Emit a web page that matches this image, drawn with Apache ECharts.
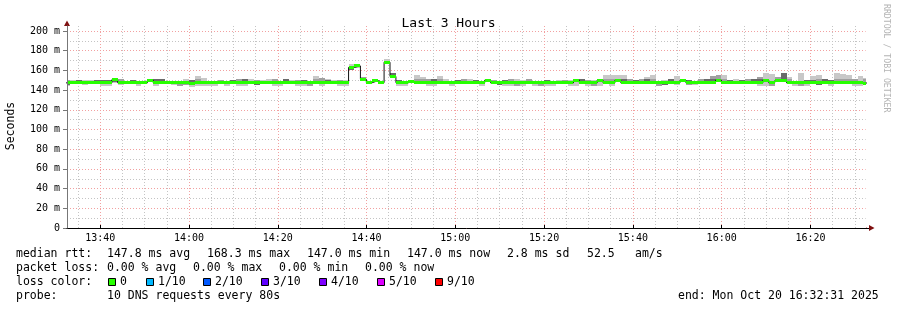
<!DOCTYPE html>
<html><head><meta charset="utf-8">
<script src="https://cdn.jsdelivr.net/npm/echarts@6/dist/echarts.min.js"></script>
<style>html,body{margin:0;padding:0;background:#fff}#c{width:897px;height:310px}</style>
</head><body><div id="c"></div>
<script>
const _ = null;
// time frame (UTC used as wall clock)
const stepSeconds = 80;
const firstStepStart = Date.UTC(2025, 9, 20, 13, 31, 57);
const viewStart = Date.UTC(2025, 9, 20, 13, 32, 31);
const viewEnd = Date.UTC(2025, 9, 20, 16, 32, 31);

// median rtt per 80 s step (ms)
const medianRtt = [
147.3,147.3,147.3,147.3,147.3,147.3,147.3,147.3,150.5,147.3,
147.3,147.3,147.3,147.3,150.0,147.3,147.3,147.3,147.3,147.3,
147.3,147.1,147.3,147.4,147.3,147.2,147.3,147.3,147.4,147.3,
147.3,147.3,147.2,147.3,147.3,147.3,147.4,147.3,147.3,147.3,
147.3,147.3,147.3,147.3,147.3,147.2,147.3,147.3,163.0,164.5,
151.0,147.5,149.5,147.5,168.3,153.8,147.5,147.3,148.5,147.3,
147.3,147.3,147.3,147.3,147.2,147.3,147.3,147.3,147.3,147.3,
147.3,150.0,147.3,147.3,147.3,147.3,147.3,147.3,147.3,147.3,
147.3,147.3,147.3,147.3,147.3,147.3,150.0,147.3,147.3,147.3,
150.0,147.3,147.3,150.0,147.3,147.3,147.3,147.3,147.3,147.3,
147.3,147.3,147.3,147.3,150.0,147.3,147.3,147.3,147.3,147.3,
150.0,147.3,147.3,147.3,147.3,147.3,147.3,147.3,150.0,147.3,
149.5,150.0,147.3,147.3,147.3,147.3,147.3,147.3,147.3,147.3,
147.3,147.3,147.3,147.3,147.3,147.0
];
// highest ping per step (null = no smoke above median)
const smokeMax = [
150.5,150.5,150.5,150.5,150.5,150.5,150.5,150.5,151.5,151,
_,150.5,_,_,_,151,151,_,_,_,
151,150.5,154.5,152.5,_,_,150.5,_,150.5,151,
151,151,150.5,150.5,151,151,_,151,150,150.5,
150.5,_,154,152,151,150.5,150.5,150.5,166.5,_,
153.5,149.5,_,148.8,172,157.5,150,_,150,155,
153,151.5,151,154,151,_,150.5,151,151,150.5,
_,_,150.5,_,150.5,151,151,150.5,151,_,
_,150.5,_,150.5,150.5,150.5,_,151,150.5,150.5,
_,155,155,155,155,151,150.5,151,153.5,155.5,
_,150.5,151,154.5,_,150.5,_,151,151,154.5,
155,155,150.5,151,150.5,151,151,153.5,157.5,156.5,
153.5,157,153.5,_,157,150.5,154,155,151,150.5,
157,156.5,155.5,151,154,152
];
const smokeMidHigh = [
150.5,_,_,_,_,_,_,_,_,151,
_,_,_,_,_,_,_,_,_,_,
_,_,151,_,_,_,150.5,_,_,151,
_,_,150.5,_,_,151,_,_,_,150.5,
_,_,151,152,_,_,150.5,_,_,_,
153.5,_,_,_,_,_,_,_,_,151,
151,151.5,_,151,_,_,_,151,_,_,
_,_,150.5,_,_,151,_,_,151,_,
_,_,_,_,150.5,_,_,_,150.5,_,
_,151,151,_,_,151,_,151,_,151,
_,_,_,_,_,_,_,151,_,154.5,
155,151,_,_,_,151,_,153.5,_,_,
153.5,_,151,_,_,_,_,151,_,_,
151,151,151,151,_,151
];
const smokeDarkHigh = [
_,_,150.5,_,_,150.5,150.5,150.5,_,_,
_,150.5,_,_,_,151,151,_,_,_,
_,150.5,_,_,_,_,_,_,150.5,_,
151,_,_,_,_,_,_,151,_,_,
150.5,_,_,_,150.5,_,_,_,_,_,
_,149.5,_,148.8,_,157.5,150,_,150,_,
_,_,151,_,_,_,150.5,_,_,150.5,
_,_,_,_,150.5,_,_,_,_,_,
_,150.5,_,_,_,_,_,151,_,_,
_,_,_,_,151,_,150.5,_,151,_,
_,_,151,_,_,150.5,_,_,151,151,
_,_,150.5,_,150.5,_,151,151,_,_,
_,157,_,_,_,150.5,150.5,_,151,150.5,
_,_,_,_,_,_
];
// lowest ping per step (null = no smoke below median)
const smokeMin = [
144,146,_,145,_,_,144,144,147,145,
_,_,144.5,_,148,144,_,_,145,144,
145,143.5,144.5,144.5,144,144,_,144.5,_,144.5,
144.5,_,145,_,146.5,144.5,144.5,_,_,144.5,
144.5,144,_,144.5,_,_,144.5,144.5,160,162,
_,_,_,_,_,_,144.5,144,_,_,
_,144.5,144.5,_,_,144.5,_,_,_,_,
144.5,148,146.5,145.5,144,144,144.5,144.5,_,144.5,
144,144.5,144,_,_,144.5,144.5,_,144.5,144.5,
144.5,_,144.5,148,_,_,_,_,_,_,
144,145.5,_,145,148,145,145,_,_,_,
_,_,_,_,_,_,_,144.5,144.5,144.5,
_,148,_,144.5,144.5,144.5,_,145.5,_,144.5,
146,_,_,144.5,144,_
];
const smokeMidLow = [
_,_,_,_,_,_,_,_,_,_,
_,_,_,_,_,_,_,_,_,144,
145,_,_,_,_,_,_,_,_,_,
_,_,_,_,_,_,_,_,_,_,
_,144,_,_,_,_,_,_,_,_,
_,_,_,_,_,_,_,_,_,_,
_,_,_,_,_,_,_,_,_,_,
_,_,_,_,_,_,144.5,_,_,_,
144,_,_,_,_,_,_,_,_,144.5,
_,_,_,_,_,_,_,_,_,_,
144,_,_,_,_,145,_,_,_,_,
_,_,_,_,_,_,_,_,_,144.5,
_,_,_,_,144.5,_,_,_,_,_,
_,_,_,_,_,_
];
const smokeDarkLow = [
145,_,_,_,_,_,_,_,148,_,
_,_,_,_,148,_,_,_,_,_,
_,_,_,_,_,_,_,_,_,_,
_,_,145,_,146.5,_,_,_,_,_,
_,_,_,_,_,_,_,_,160,_,
_,_,_,_,_,_,_,_,_,_,
_,_,_,_,_,_,_,_,_,_,
_,148,146.5,145.5,_,_,_,_,_,_,
_,_,_,_,_,_,148,_,_,_,
148,_,_,148,_,_,_,_,_,_,
_,145.5,_,_,148,_,_,_,_,_,
_,_,_,_,_,_,_,_,148,_,
_,148,_,_,_,_,_,145.5,_,_,
146,_,_,_,_,_
];

const yTickLabels = {0:'0',20:'20 m',40:'40 m',60:'60 m',80:'80 m',100:'100 m',120:'120 m',140:'140 m',160:'160 m',180:'180 m',200:'200 m'};
const titleText = 'Last 3 Hours';
const yTitle = 'Seconds';
const lossLegend = [['0','#26ff00'],['1/10','#00b8ff'],['2/10','#0059ff'],['3/10','#5e00ff'],['4/10','#7e00ff'],['5/10','#dd00ff'],['9/10','#ff0000']];
const statsRtt = ['median rtt:','147.8 ms avg','168.3 ms max','147.0 ms min','147.0 ms now','2.8 ms sd','52.5','am/s'];
const statsLoss = ['packet loss:','0.00 % avg','0.00 % max','0.00 % min','0.00 % now'];
const probeText = ['probe:','10 DNS requests every 80s'];
const endText = 'end: Mon Oct 20 16:32:31 2025';
const watermark = 'RRDTOOL / TOBI OETIKER';

const STEP_MS = stepSeconds * 1000;
const smokeData = medianRtt.map((m, j) => {
  const t0 = firstStepStart + j * STEP_MS;
  const dh = smokeDarkHigh[j] ?? m, dl = smokeDarkLow[j] ?? m;
  const mh = Math.max(smokeMidHigh[j] ?? m, dh), ml = Math.min(smokeMidLow[j] ?? m, dl);
  const lh = Math.max(smokeMax[j] ?? m, mh), ll = Math.min(smokeMin[j] ?? m, ml);
  return [t0, t0 + STEP_MS, m, ll, lh, ml, mh, dl, dh];
});
const lineData = medianRtt.map((m, j) => [firstStepStart + j * STEP_MS, m]);
lineData.push([firstStepStart + medianRtt.length * STEP_MS, medianRtt[medianRtt.length - 1]]);

const MONO = '"DejaVu Sans Mono", "Liberation Mono", monospace';
const SMOKE = ['#c8c8c8', '#a0a0a0', '#6a6a6a'];

function clipRect(r, cs) {
  const x1 = Math.max(r.x, cs.x), x2 = Math.min(r.x + r.width, cs.x + cs.width);
  const y1 = Math.max(r.y, cs.y), y2 = Math.min(r.y + r.height, cs.y + cs.height);
  if (x2 <= x1 || y2 <= y1) return null;
  return {x: x1, y: y1, width: x2 - x1, height: y2 - y1};
}
function renderSmoke(params, api) {
  const cs = params.coordSys;
  const t0 = api.value(0), t1 = api.value(1);
  const bands = [[api.value(3), api.value(4)], [api.value(5), api.value(6)], [api.value(7), api.value(8)]];
  const children = [];
  bands.forEach((b, i) => {
    if (!(b[1] > b[0])) return;
    const a = api.coord([t0, b[1]]), c = api.coord([t1, b[0]]);
    const xa = Math.round(a[0]), xc = Math.round(c[0]);
    const ya = Math.round(a[1]), yc = Math.round(c[1]);
    if (yc <= ya) return;
    const r = clipRect({x: xa, y: ya, width: xc - xa, height: yc - ya}, cs);
    if (r) children.push({type: 'rect', shape: r, style: {fill: SMOKE[i]}, z2: i});
  });
  return {type: 'group', children};
}
function renderMedian(params, api) {
  const cs = params.coordSys;
  const a = api.coord([api.value(0), api.value(2)]), b = api.coord([api.value(1), api.value(2)]);
  const x1 = Math.max(Math.round(a[0]), cs.x), x2 = Math.min(Math.round(b[0]), cs.x + cs.width);
  if (x2 <= x1) return null;
  return {type: 'rect', shape: {x: x1, y: Math.round(a[1] - 1.5), width: x2 - x1, height: 3}, style: {fill: '#26ff00'}, z2: 100};
}

const graphics = [];
function text(x, y, s, size, extra) {
  graphics.push(Object.assign({type: 'text', x: x, y: y, silent: true,
    style: {text: s, font: size + 'px ' + MONO, fill: '#000', align: 'left', verticalAlign: 'middle'}}, extra || {}));
}
// stats lines
const rttX = [16, 107, 207, 307, 407, 507, 587, 635];
statsRtt.forEach((s, i) => text(rttX[i], 254, s, 11.5));
const lossX = [16, 107, 193, 279, 365];
statsLoss.forEach((s, i) => text(lossX[i], 268, s, 11.5));
text(16, 282, 'loss color:', 11.5);
const boxX = [108, 146, 203, 261, 319, 377, 435];
lossLegend.forEach((l, i) => {
  graphics.push({type: 'rect', shape: {x: boxX[i] + 0.5, y: 278.5, width: 7, height: 7},
    style: {fill: l[1], stroke: '#000', lineWidth: 1}, silent: true});
  text(boxX[i] + 12, 282, l[0], 11.5);
});
text(16, 296, probeText[0], 11.5);
text(107, 296, probeText[1], 11.5);
text(678, 296, endText, 11.5);
// y title
graphics.push({type: 'text', x: 11, y: 126, rotation: Math.PI / 2, silent: true,
  style: {text: yTitle, font: '11.5px ' + MONO, fill: '#000', align: 'center', verticalAlign: 'middle'}});
// watermark
graphics.push({type: 'text', x: 886, y: 4, rotation: -Math.PI / 2, silent: true,
  style: {text: watermark, font: '8.2px ' + MONO, fill: '#b4b4b4', align: 'left', verticalAlign: 'middle'}});
// cover the edge grid line that the time axis puts at its max
graphics.push({type: 'rect', z: 0.5, shape: {x: 865.6, y: 24, width: 2, height: 203}, style: {fill: '#fff'}, silent: true});
// axis arrows
graphics.push({type: 'polygon', shape: {points: [[64, 26], [70, 26], [67, 20.5]]}, style: {fill: '#7f1010'}, silent: true});
graphics.push({type: 'line', shape: {x1: 866, y1: 228.5, x2: 869, y2: 228.5}, style: {stroke: '#000', lineWidth: 1}, silent: true});
graphics.push({type: 'polygon', shape: {points: [[869, 225], [869, 231], [874.5, 228]]}, style: {fill: '#7f1010'}, silent: true});

const MAJOR = '#f2a0a0', MINOR = '#c4c4c4';
const option = {
  useUTC: true,
  animation: false,
  backgroundColor: '#ffffff',
  title: {text: titleText, left: 'center', top: 12,
    textStyle: {fontFamily: MONO, fontSize: 13, fontWeight: 'normal', color: '#000'}},
  grid: [
    {left: 67, right: 31, top: 26, bottom: 82},
    {left: 67, right: 31, top: 31, bottom: 82}
  ],
  xAxis: [
    {type: 'time', gridIndex: 0, min: viewStart, max: viewEnd, z: 0.2,
      minInterval: 20.5 * 60000, maxInterval: 20.5 * 60000,
      axisLine: {show: true, lineStyle: {color: '#000', width: 1}},
      axisTick: {show: true, inside: true, length: 3, lineStyle: {color: '#000'}},
      axisLabel: {show: true, formatter: '{HH}:{mm}', fontFamily: MONO, fontSize: 10, color: '#000', margin: 5,
        showMinLabel: false, showMaxLabel: false, hideOverlap: false},
      splitLine: {show: true, lineStyle: {color: MAJOR, type: [1, 2], width: 1}}},
    {type: 'time', gridIndex: 0, min: viewStart, max: viewEnd, z: 0.1,
      minInterval: 5.5 * 60000, maxInterval: 5.5 * 60000,
      axisLine: {show: false}, axisTick: {show: false}, axisLabel: {show: false},
      splitLine: {show: true, lineStyle: {color: MINOR, type: [1, 2], width: 1}}},
    {type: 'value', gridIndex: 1, show: false, min: 0, max: 1}
  ],
  yAxis: [
    {type: 'value', gridIndex: 0, min: 0, max: 205, z: 6,
      axisLine: {show: true, lineStyle: {color: '#777', width: 1}},
      axisTick: {show: false}, axisLabel: {show: false}, splitLine: {show: false}},
    {type: 'value', gridIndex: 1, min: 0, max: 200, interval: 20, z: 0,
      axisLine: {show: false},
      axisTick: {show: true, length: 4, lineStyle: {color: '#777'}},
      minorTick: {show: false, splitNumber: 2},
      minorSplitLine: {show: true, lineStyle: {color: MINOR, type: [1, 2], width: 1}},
      axisLabel: {formatter: v => yTickLabels[v] ?? '', fontFamily: MONO, fontSize: 10, color: '#000', margin: 7},
      splitLine: {show: true, lineStyle: {color: MAJOR, type: [1, 2], width: 1}}}
  ],
  series: [
    {type: 'custom', name: 'smoke', xAxisIndex: 0, yAxisIndex: 0, renderItem: renderSmoke, z: 1,
      data: smokeData, encode: {x: [0, 1], y: 2}, silent: true},
    {type: 'line', name: 'median', xAxisIndex: 0, yAxisIndex: 0, data: lineData, step: 'end', z: 2,
      showSymbol: false, lineStyle: {color: '#111', width: 1}, silent: true},
    {type: 'custom', name: 'median loss', xAxisIndex: 0, yAxisIndex: 0, renderItem: renderMedian, z: 5,
      data: smokeData, encode: {x: [0, 1], y: 2}, silent: true}
  ],
  graphic: graphics
};
const chart = echarts.init(document.getElementById('c'), null, {renderer: 'canvas'});
chart.setOption(option);
</script></body></html>
